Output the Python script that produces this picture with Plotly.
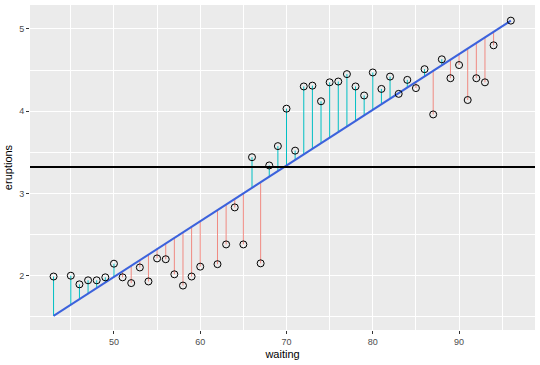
import plotly.graph_objects as go

waiting = [43, 45, 46, 47, 48, 49, 50, 51, 52, 53, 54, 55, 56, 57, 58, 59, 60,
           62, 63, 64, 65, 66, 67, 68, 69, 70, 71, 72, 73, 74, 75, 76, 77, 78,
           79, 80, 81, 82, 83, 84, 85, 86, 87, 88, 89, 90, 91, 92, 93, 94, 96]
eruptions = [1.99, 2.00, 1.895, 1.944, 1.944, 1.98, 2.146, 1.98, 1.91, 2.10, 1.93,
             2.21, 2.20, 2.017, 1.88, 1.99, 2.11,
             2.14, 2.38, 2.83, 2.38, 3.44, 2.15, 3.34, 3.575, 4.03, 3.52, 4.30,
             4.31, 4.12, 4.35, 4.36, 4.45, 4.30,
             4.19, 4.47, 4.27, 4.42, 4.21, 4.38, 4.28, 4.51, 3.96, 4.63, 4.40,
             4.56, 4.135, 4.40, 4.35, 4.80, 5.10]

fit_intercept = -1.40
fit_slope = 0.0677
mean_eruptions = 3.32

fitted = [fit_intercept + fit_slope * w for w in waiting]

teal = "#00BFC4"
red = "#F08A82"

up_x, up_y, dn_x, dn_y = [], [], [], []
for w, e, f in zip(waiting, eruptions, fitted):
    if e >= f:
        up_x += [w, w, None]
        up_y += [f, e, None]
    else:
        dn_x += [w, w, None]
        dn_y += [f, e, None]

fig = go.Figure()
fig.add_trace(go.Scatter(x=dn_x, y=dn_y, mode="lines",
                         line=dict(color=red, width=1), showlegend=False))
fig.add_trace(go.Scatter(x=up_x, y=up_y, mode="lines",
                         line=dict(color=teal, width=1), showlegend=False))
fig.add_trace(go.Scatter(x=waiting, y=fitted, mode="lines",
                         line=dict(color="#3C62DC", width=2), showlegend=False))
fig.add_trace(go.Scatter(x=waiting, y=eruptions, mode="markers",
                         marker=dict(symbol="circle-open", size=7,
                                     color="black", line=dict(width=1)),
                         showlegend=False))
fig.add_hline(y=mean_eruptions, line=dict(color="black", width=2))

axis_common = dict(
    showgrid=True, gridcolor="white", gridwidth=1.1,
    zeroline=False, showline=False, automargin=False,
    ticks="outside", ticklen=3, tickcolor="#333333", tickwidth=1,
    tickfont=dict(family="Liberation Sans, Arial", size=9, color="#4D4D4D"),
)

fig.update_xaxes(range=[40.27, 98.8], tickvals=[50, 60, 70, 80, 90],
                 minor=dict(tickvals=[45, 55, 65, 75, 85, 95], showgrid=True,
                            gridcolor="white", gridwidth=0.5, ticks=""),
                 title=dict(text="waiting", standoff=4,
                            font=dict(family="Liberation Sans, Arial", size=11, color="black")),
                 **axis_common)
fig.update_yaxes(range=[1.34, 5.29], tickvals=[2, 3, 4, 5],
                 minor=dict(tickvals=[1.5, 2.5, 3.5, 4.5], showgrid=True,
                            gridcolor="white", gridwidth=0.5, ticks=""),
                 title=dict(text="eruptions", standoff=4,
                            font=dict(family="Liberation Sans, Arial", size=11, color="black")),
                 **axis_common)

fig.update_layout(
    width=540, height=365,
    margin=dict(l=30, r=5, t=5, b=35),
    plot_bgcolor="#EBEBEB", paper_bgcolor="white",
    showlegend=False,
)

fig.write_html("out.html", config={"displayModeBar": False},
               post_script="document.body.style.margin='0';document.body.style.overflow='hidden';")
